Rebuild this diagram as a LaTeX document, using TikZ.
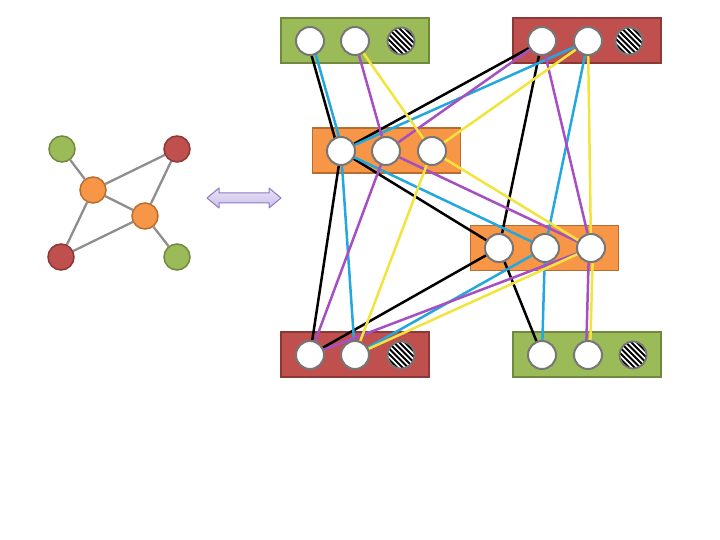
\documentclass[tikz,border=0pt]{standalone}
\usetikzlibrary{calc}
\definecolor{gfill}{HTML}{9BBB59}
\definecolor{gline}{HTML}{71893F}
\definecolor{rfill}{HTML}{C0504D}
\definecolor{rline}{HTML}{8C3836}
\definecolor{ofill}{HTML}{F79646}
\definecolor{oline}{HTML}{B66D31}
\definecolor{cgray}{HTML}{767676}
\definecolor{egray}{HTML}{8E8E8E}
\definecolor{ccyan}{HTML}{22A8DF}
\definecolor{cpurple}{HTML}{A54FC0}
\definecolor{cyellow}{HTML}{F2E43C}
\definecolor{afill}{HTML}{CDBFEC}
\definecolor{afilltop}{HTML}{E8E2F7}
\definecolor{aline}{HTML}{8C7BBE}
\pgfdeclarelayer{boxes}
\pgfdeclarelayer{edges}
\pgfsetlayers{boxes,edges,main}
\begin{document}
\begin{tikzpicture}[x=1pt,y=-1pt,
  vtx/.style={circle,draw=cgray,line width=2pt,fill=white,minimum size=28pt,inner sep=0pt},
  hatchvtx/.style={circle,draw=cgray,line width=1.8pt,fill=white,minimum size=27pt,inner sep=0pt,
    path picture={
      \foreach \k in {-5,...,5}{
        \draw[black,line width=1.8pt]
          ([shift={(\k*2.75-22,-\k*2.75-22)}]path picture bounding box.center) -- ++(44,44);
      }
    }},
  grp/.style={rectangle,line width=1.3pt,minimum width=148pt,minimum height=45pt,inner sep=0pt},
  grpg/.style={grp,fill=gfill,draw=gline},
  grpr/.style={grp,fill=rfill,draw=rline},
  grpo/.style={grp,fill=ofill,draw=oline},
  ln/.style={line width=2.5pt},
  lk/.style={ln,black},
  lc/.style={ln,ccyan},
  lp/.style={ln,cpurple},
  ly/.style={ln,cyellow},
  sv/.style={circle,line width=1.5pt,minimum size=26pt,inner sep=0pt},
  svg/.style={sv,fill=gfill,draw=gline},
  svr/.style={sv,fill=rfill,draw=rline},
  svo/.style={sv,fill=ofill,draw=oline},
  sedge/.style={line width=2.3pt,egray}
]
\useasboundingbox (0,0) rectangle (720,540);

% group boxes
\begin{pgfonlayer}{boxes}
\node[grpg] (G1) at (355,40.5) {};
\node[grpr] (R1) at (587,40.5) {};
\node[grpo] (O1) at (386.5,150.5) {};
\node[grpo] (O2) at (544.5,248) {};
\node[grpr] (R2) at (355,354.5) {};
\node[grpg] (G2) at (587,354.5) {};
\end{pgfonlayer}

% vertices
\node[vtx] (g1a) at (310,41) {};
\node[vtx] (g1b) at (355,41) {};
\node[hatchvtx] (g1h) at (401,41) {};
\node[vtx] (r1a) at (542,41) {};
\node[vtx] (r1b) at (588,41) {};
\node[hatchvtx] (r1h) at (629,41) {};
\node[vtx] (o1a) at (341,151) {};
\node[vtx] (o1b) at (386,151) {};
\node[vtx] (o1c) at (432,151) {};
\node[vtx] (o2a) at (499,248) {};
\node[vtx] (o2b) at (545,248) {};
\node[vtx] (o2c) at (591,248) {};
\node[vtx] (r2a) at (310,355) {};
\node[vtx] (r2b) at (355,355) {};
\node[hatchvtx] (r2h) at (401,355) {};
\node[vtx] (g2a) at (542,355) {};
\node[vtx] (g2b) at (588,355) {};
\node[hatchvtx] (g2h) at (633,355) {};

\begin{pgfonlayer}{edges}
% black
\draw[lk] ([xshift=-2.5pt]g1a.center) -- ([xshift=-2.5pt]o1a.center);
\draw[lk] (o1a) -- (r1a);
\draw[lk] (o1a) -- (o2a);
\draw[lk] (r1a) -- (o2a);
\draw[lk] (o1a) -- (r2a);
\draw[lk] (r2a) -- (o2a);
\draw[lk] (o2a) -- (g2a);
% cyan
\draw[lc] ([xshift=2pt]g1a.center) -- ([xshift=2pt]o1a.center);
\draw[lc] (o1a) -- (r1b);
\draw[lc] (o1a) -- (o2b);
\draw[lc] (o1a) -- (r2b);
\draw[lc] (r1b) -- (o2b);
\draw[lc] (o2b) -- (g2a);
\draw[lc] (r2b) -- (o2b);
% purple
\draw[lp] (g1b) -- (o1b);
\draw[lp] (o1b) -- (r1a);
\draw[lp] (r1a) -- (o2c);
\draw[lp] (o1b) -- (o2c);
\draw[lp] (o1b) -- (r2a);
\draw[lp] (r2a) -- (o2c);
\draw[lp] ([xshift=-2pt]o2c.center) -- ([xshift=-2pt]g2b.center);
% yellow
\draw[ly] (g1b) -- (o1c);
\draw[ly] (o1c) -- (r1b);
\draw[ly] (o1c) -- (o2c);
\draw[ly] (r1b) -- (o2c);
\draw[ly] (o1c) -- (r2b);
\draw[ly] (r2b) -- (o2c);
\draw[ly] ([xshift=2pt]o2c.center) -- ([xshift=2pt]g2b.center);
\end{pgfonlayer}

% small graph on the left
\node[svg] (sg1) at (62,149) {};
\node[svr] (sr1) at (177,149) {};
\node[svo] (so1) at (93,190) {};
\node[svo] (so2) at (145,216) {};
\node[svr] (sr2) at (61,257) {};
\node[svg] (sg2) at (177,257) {};
\begin{pgfonlayer}{edges}
\draw[sedge] (sg1) -- (so1);
\draw[sedge] (so1) -- (sr1);
\draw[sedge] (so1) -- (so2);
\draw[sedge] (sr1) -- (so2);
\draw[sedge] (so1) -- (sr2);
\draw[sedge] (sr2) -- (so2);
\draw[sedge] (so2) -- (sg2);
\end{pgfonlayer}

% double arrow
\draw[draw=aline,line width=1pt,top color=afilltop,bottom color=afill,line join=round]
  (207,198) -- (219,188) -- (219,193) -- (269,193) -- (269,188) -- (281,198)
  -- (269,208) -- (269,203) -- (219,203) -- (219,208) -- cycle;
\end{tikzpicture}
\end{document}
